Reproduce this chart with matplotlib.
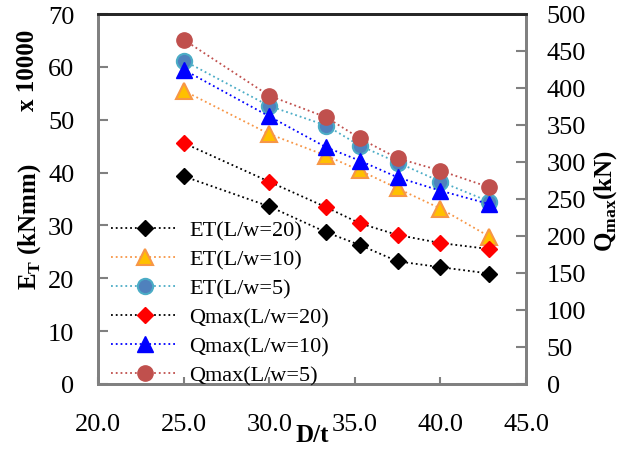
import matplotlib.pyplot as plt

plt.rcParams['font.family'] = ['Liberation Serif', 'DejaVu Serif']

# D/t values (D = 300 mm, t = 12 ... 7 mm)
d_t = [300 / 12, 300 / 10, 300 / 9, 300 / 8.5, 300 / 8, 300 / 7.5, 300 / 7]

# Energy, x 10000 kNmm
et_20 = [39.3, 33.6, 28.7, 26.3, 23.2, 22.1, 20.9]
et_10 = [55.5, 47.3, 43.2, 40.4, 37.0, 33.2, 27.9]
et_5 = [61.2, 52.6, 48.9, 45.1, 41.9, 38.3, 34.5]

# Peak load, kN
q_20 = [325.7, 273.4, 238.8, 217.1, 201.4, 190.5, 182.4]
q_10 = [424.8, 361.7, 319.8, 301.8, 279.3, 261.2, 243.2]
q_5 = [465.4, 389.6, 360.4, 332.0, 305.0, 288.3, 265.8]

fig = plt.figure(figsize=(6.37, 4.52), dpi=100)
ax = fig.add_axes([98 / 637, 67 / 452, 428 / 637, 370 / 452])
ax2 = ax.twinx()

lw = 1.3
h1, = ax.plot(d_t, et_20, ':', color='black', lw=lw, marker='D', ms=8,
              mfc='black', mec='black', label='ET(L/w=20)')
h2, = ax.plot(d_t, et_10, ':', color='#F79646', lw=lw, marker='^', ms=11,
              mfc='#FFC000', mec='#F79646', mew=1.5, label='ET(L/w=10)')
h3, = ax.plot(d_t, et_5, ':', color='#4BACC6', lw=lw, marker='o', ms=11,
              mfc='#4F81BD', mec='#4BACC6', mew=1.5, label='ET(L/w=5)')
h4, = ax2.plot(d_t, q_20, ':', color='black', lw=lw, marker='D', ms=8,
               mfc='red', mec='red', label='Qmax(L/w=20)')
h5, = ax2.plot(d_t, q_10, ':', color='blue', lw=lw, marker='^', ms=11,
               mfc='blue', mec='blue', label='Qmax(L/w=10)')
h6, = ax2.plot(d_t, q_5, ':', color='#C0504D', lw=lw, marker='o', ms=11,
               mfc='#C0504D', mec='#C0504D', label='Qmax(L/w=5)')

ax.set_xlim(20, 45)
ax.set_ylim(0, 70)
ax2.set_ylim(0, 500)
ax.set_xticks([20, 25, 30, 35, 40, 45])
ax.set_xticklabels(['20.0', '25.0', '30.0', '35.0', '40.0', '45.0'])
ax.set_yticks(range(0, 71, 10))
ax2.set_yticks(range(0, 501, 50))

ax.tick_params(axis='x', direction='in', length=5, width=1.5, color='#808080',
               labelsize=19, pad=21)
ax.tick_params(axis='y', direction='in', length=7, width=1.5, color='#808080',
               labelsize=19, pad=17)
ax2.tick_params(axis='y', direction='in', length=7, width=1.5, color='#808080',
                labelsize=19, pad=15)

for a in (ax, ax2):
    for s in ('left', 'right', 'bottom'):
        a.spines[s].set_color('#808080')
        a.spines[s].set_linewidth(2)
    a.spines['top'].set_color('#262626')
    a.spines['top'].set_linewidth(2)

fig.text(312 / 637, 1 - 436 / 452, 'D/t', fontsize=18, fontweight='bold',
         ha='center', va='center')
fig.text(30 / 637, 1 - 227 / 452, r'E$_\mathregular{T}$ (kNmm)', fontsize=18,
         fontweight='bold', rotation=90, ha='center', va='center')
fig.text(27 / 637, 1 - 70 / 452, 'x 10000', fontsize=18, fontweight='bold',
         rotation=90, ha='center', va='center')
fig.text(606 / 637, 1 - 201 / 452, r'Q$_\mathregular{max}$(kN)', fontsize=18,
         fontweight='bold', rotation=90, ha='center', va='center')

ax2.legend(handles=[h1, h2, h3, h4, h5, h6], loc='lower left',
           bbox_to_anchor=(0.0, -0.04), frameon=False, fontsize=16,
           handlelength=3.0, handletextpad=0.5, labelspacing=0.38,
           borderaxespad=0.2)

plt.savefig('out.png', dpi=100)
